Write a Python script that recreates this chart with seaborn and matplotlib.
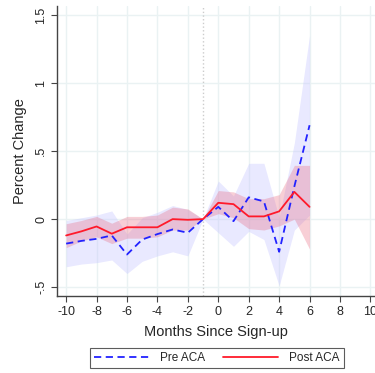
import pandas as pd
import matplotlib
matplotlib.use('Agg')
import matplotlib.pyplot as plt
import seaborn as sns

# data
months = [-10, -9, -8, -7, -6, -5, -4, -3, -2, -1, 0, 1, 2, 3, 4, 5, 6]

pre_est = [-0.18, -0.16, -0.145, -0.12, -0.26, -0.15, -0.11, -0.076, -0.10, 0.0,
           0.09, -0.015, 0.16, 0.13, -0.24, 0.24, 0.69]
pre_lo = [-0.35, -0.33, -0.32, -0.30, -0.40, -0.31, -0.27, -0.24, -0.27, 0.0,
          -0.10, -0.20, -0.09, -0.15, -0.49, -0.08, 0.03]
pre_hi = [-0.01, 0.01, 0.03, 0.06, -0.11, 0.01, 0.05, 0.10, 0.07, 0.0,
          0.28, 0.17, 0.41, 0.41, 0.01, 0.56, 1.35]

post_est = [-0.12, -0.09, -0.054, -0.107, -0.06, -0.06, -0.06, 0.0, -0.005, 0.0,
            0.12, 0.11, 0.02, 0.02, 0.057, 0.20, 0.09]
post_lo = [-0.21, -0.16, -0.13, -0.18, -0.14, -0.14, -0.13, -0.08, -0.08, 0.0,
           0.04, 0.01, -0.07, -0.08, -0.05, 0.0, -0.22]
post_hi = [-0.034, -0.01, 0.02, -0.03, 0.02, 0.02, 0.03, 0.088, 0.075, 0.0,
           0.21, 0.20, 0.15, 0.15, 0.18, 0.395, 0.395]

x_ticks = [-10, -8, -6, -4, -2, 0, 2, 4, 6, 8, 10]
y_ticks = [-0.5, 0, 0.5, 1, 1.5]
y_labels = ['-.5', '0', '.5', '1', '1.5']

df = pd.DataFrame({
    'month': months * 2,
    'est': pre_est + post_est,
    'group': ['Pre ACA'] * len(months) + ['Post ACA'] * len(months),
})

sns.set_style('white')
plt.rcParams['font.family'] = ['Liberation Sans', 'DejaVu Sans']
plt.rcParams['axes.unicode_minus'] = False

blue = '#2222ff'
red = '#ff1a2a'

fig = plt.figure(figsize=(3.75, 3.73), dpi=100)
ax = fig.add_axes([0.152, 0.206, 0.848, 0.778])

# bands
ax.fill_between(months, pre_lo, pre_hi, color='#c8c8ff', alpha=0.4, lw=0)
ax.fill_between(months, post_lo, post_hi, color='#e8607a', alpha=0.3, lw=0)

ax.axvline(-1, color='#cccccc', ls=':', lw=1)

sns.lineplot(data=df, x='month', y='est', hue='group', style='group',
             palette={'Pre ACA': blue, 'Post ACA': red},
             dashes={'Pre ACA': (4, 2.5), 'Post ACA': ''},
             lw=1.3, ax=ax, legend=False)

ax.set_xlim(-10.6, 10.3)
ax.set_ylim(-0.566, 1.566)
ax.set_xticks(x_ticks)
ax.set_yticks(y_ticks)
ax.set_yticklabels(y_labels, rotation=90, va='center')
ax.tick_params(axis='both', labelsize=9, length=4, width=0.8, color='#444444',
               direction='out', bottom=True, left=True, pad=3)
ax.grid(True, color='#eaf2f3', lw=1)
ax.set_axisbelow(True)
for s in ['top', 'right']:
    ax.spines[s].set_visible(False)
for s in ['left', 'bottom']:
    ax.spines[s].set_color('#444444')
    ax.spines[s].set_linewidth(1)

ax.set_xlabel('Months Since Sign-up', fontsize=10.5, labelpad=5)
ax.set_ylabel('Percent Change', fontsize=10.5, labelpad=6)

handles = [plt.Line2D([], [], color=blue, ls=(0, (4, 2.5)), lw=1.3),
           plt.Line2D([], [], color=red, lw=1.3)]
leg = fig.legend(handles, ['Pre ACA', 'Post ACA'], loc='center',
                 bbox_to_anchor=(0.579, 0.04), ncol=2, fontsize=8.5,
                 frameon=True, fancybox=False, edgecolor='#333333',
                 handlelength=4.6, columnspacing=1.5, handletextpad=1.0,
                 borderpad=0.35)
leg.get_frame().set_linewidth(0.8)

fig.savefig('out.png', dpi=100)
